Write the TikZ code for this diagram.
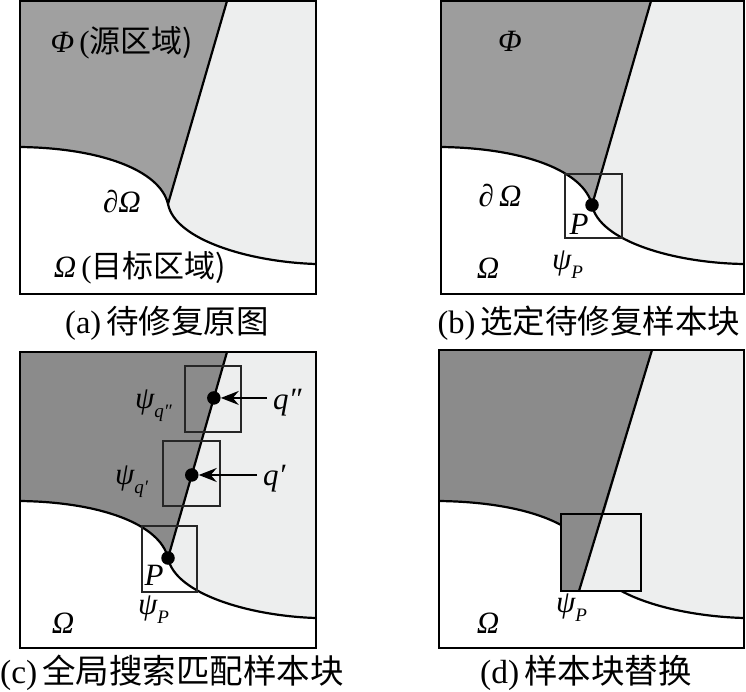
\documentclass[tikz,border=0pt]{standalone}
\usepackage{fontspec}
\setmainfont{Liberation Serif}
\newfontfamily\cjk{Noto Sans CJK SC}
\usetikzlibrary{arrows.meta,calc}
\definecolor{darkA}{RGB}{160,160,160}
\definecolor{darkB}{RGB}{157,157,157}
\definecolor{darkC}{RGB}{139,139,139}
\definecolor{lightR}{RGB}{237,238,238}
\newcommand{\sbs}[1]{\raisebox{-0.3em}{\fontsize{19}{19}\selectfont\itshape #1}}
\tikzset{
  edge/.style={line width=2.2pt},
  frame/.style={draw=black, line width=2.2pt},
  patch/.style={draw=black!85, line width=1.8pt},
  dot/.style={circle, fill=black, inner sep=0pt, minimum size=13.5pt},
  lab/.style={inner sep=0pt, font=\fontsize{31}{33}\selectfont\itshape},
  biglab/.style={inner sep=0pt, font=\fontsize{31}{33}\selectfont},
  arr/.style={line width=1.8pt, -{Stealth[length=18pt,width=14pt,inset=6pt]}},
}
\begin{document}
\begin{tikzpicture}[x=1pt,y=-1pt]
\useasboundingbox (0,0) rectangle (746,691);
% ---------------- (a)
\coordinate (aT) at (227,1); \coordinate (aP) at (168,204);
\coordinate (aL) at (20,147); \coordinate (aR) at (316,264);
\fill[lightR] (20,1) rectangle (316,294);
\fill[darkA] (20,1) -- (aT) -- (aP) .. controls (160,170) and (100,148) .. (aL) -- cycle;
\fill[white] (aL) .. controls (100,148) and (160,170) .. (aP) .. controls (175,240) and (250,262) .. (aR) -- (316,294) -- (20,294) -- cycle;
\draw[edge] (aL) .. controls (100,148) and (160,170) .. (aP) .. controls (175,240) and (250,262) .. (aR);
\draw[edge] (aT) -- (aP);
\draw[frame] (20,1) rectangle (316,294);
\node[biglab] (aphi) at (122,43) {{\itshape Φ}\,(\cjk 源区域)};
\node[lab] (adom) at (122,202) {∂Ω};
\node[biglab] (aom) at (140,268) {{\itshape Ω}\,(\cjk 目标区域)};
\node[inner sep=0pt, font=\fontsize{32.5}{34}\selectfont] (acap) at (167,323) {(a)\hspace{5pt}{\cjk 待修复原图}};
% ---------------- (b)
\coordinate (bT) at (651,1); \coordinate (bL) at (441,147); \coordinate (bR) at (744,264);
\coordinate (bPc) at (592,205);
\fill[lightR] (441,1) rectangle (744,294);
\fill[darkB] (441,1) -- (bT) -- (bPc) .. controls (584,171) and (524,148) .. (bL) -- cycle;
\fill[white] (bL) .. controls (524,148) and (584,171) .. (bPc) .. controls (599,241) and (674,263) .. (bR) -- (744,294) -- (441,294) -- cycle;
\draw[edge] (bL) .. controls (524,148) and (584,171) .. (bPc) .. controls (599,241) and (674,263) .. (bR);
\draw[edge] (bT) -- (bPc);
\draw[patch] (565,174) rectangle (622,238);
\node[dot] (bP) at (bPc) {};
\draw[frame] (441,1) rectangle (744,294);
\node[lab] (bphi) at (510,41) {Φ};
\node[lab] (bdom) at (500,196) {∂\,Ω};
\node[lab] (bPl) at (579,224) {P};
\node[lab, anchor=west] (bpsi) at (552,265) {ψ\sbs{P}};
\node[lab] (bom) at (488,268) {Ω};
\node[inner sep=0pt, font=\fontsize{32.5}{34}\selectfont] (bcap) at (589,323) {(b)\hspace{5pt}{\cjk 选定待修复样本块}};
% ---------------- (c)
\coordinate (cT) at (227,352); \coordinate (cL) at (20,501); \coordinate (cR) at (316,618);
\coordinate (cPc) at (168,558);
\fill[lightR] (20,352) rectangle (316,648);
\fill[darkC] (20,352) -- (cT) -- (cPc) .. controls (160,524) and (100,502) .. (cL) -- cycle;
\fill[white] (cL) .. controls (100,502) and (160,524) .. (cPc) .. controls (175,594) and (250,616) .. (cR) -- (316,648) -- (20,648) -- cycle;
\draw[edge] (cL) .. controls (100,502) and (160,524) .. (cPc) .. controls (175,594) and (250,616) .. (cR);
\draw[edge] (cT) -- (cPc);
\draw[patch] (142,526) rectangle (197,592);
\draw[patch] (163,441) rectangle (220,506);
\draw[patch] (185,366) rectangle (241,432);
\node[dot] (cP) at (cPc) {};
\node[dot] (cq1) at ($(cT)!0.597!(cPc)$) {};
\node[dot] (cq2) at ($(cT)!0.223!(cPc)$) {};
\draw[frame] (20,352) rectangle (316,648);
\node[lab, anchor=west] (cq2l) at (273,403) {q″};
\node[lab, anchor=west] (cq1l) at (263,479) {q′};
\draw[arr] ([xshift=-6pt]cq2l.west |- cq2) -- (cq2);
\draw[arr] ([xshift=-6pt]cq1l.west |- cq1) -- (cq1);
\node[lab, anchor=west] (cpsi2) at (135,406) {ψ\sbs{q″}};
\node[lab, anchor=west] (cpsi1) at (115,482) {ψ\sbs{q′}};
\node[lab] (cPl) at (154,575) {P};
\node[lab, anchor=west] (cpsiP) at (138,610) {ψ\sbs{P}};
\node[lab] (com) at (63,623) {Ω};
\node[inner sep=0pt, font=\fontsize{33.5}{35}\selectfont] (ccap) at (172,673) {(c)\hspace{5pt}{\cjk 全局搜索匹配样本块}};
% ---------------- (d)
\coordinate (dT) at (652,350); \coordinate (dL) at (439,501); \coordinate (dR) at (744,618);
\coordinate (dPc) at (591,558); \coordinate (dB) at (579,591);
\coordinate (dX) at ($(dT)!0.6805!(dB)$);
\fill[lightR] (439,350) rectangle (744,648);
\fill[darkC] (439,350) -- (dT) -- (dPc) .. controls (583,524) and (523,502) .. (dL) -- cycle;
\fill[white] (dL) .. controls (523,502) and (583,524) .. (dPc) .. controls (598,594) and (673,616) .. (dR) -- (744,648) -- (439,648) -- cycle;
\draw[edge] (dL) .. controls (523,502) and (583,524) .. (dPc) .. controls (598,594) and (673,616) .. (dR);
\fill[lightR] (561,514) rectangle (641,591);
\fill[darkC] (561,514) -- (dX) -- (dB) -- (561,591) -- cycle;
\draw[edge] (dT) -- (dB);
\draw[frame] (561,514) rectangle (641,591);
\draw[frame] (439,350) rectangle (744,648);
\node[lab, anchor=west] (dpsi) at (556,608) {ψ\sbs{P}};
\node[lab] (dom) at (488,623) {Ω};
\node[inner sep=0pt, font=\fontsize{33.5}{35}\selectfont] (dcap) at (586,673) {(d)\hspace{5pt}{\cjk 样本块替换}};
\end{tikzpicture}
\end{document}
